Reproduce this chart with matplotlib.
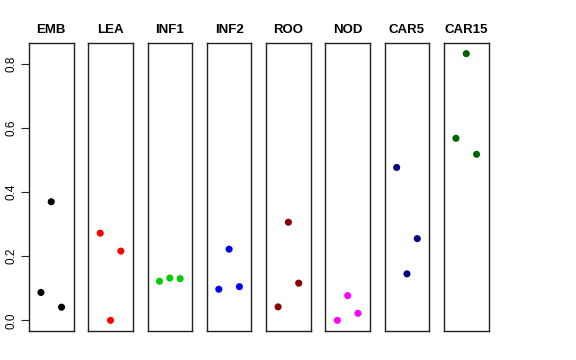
import numpy as np
import matplotlib
matplotlib.use("Agg")
import matplotlib.pyplot as plt

plt.rcParams["font.family"] = ["Liberation Sans", "DejaVu Sans"]

# ─── data ────────────────────────────────────────────────────────────────────
groups = ["EMB", "LEA", "INF1", "INF2", "ROO", "NOD", "CAR5", "CAR15"]
colors = ["black", "red", "#00CD00", "blue", "#8B0000", "magenta", "#000080", "#006400"]
positions = [1, 2, 3]

emb   = [0.087, 0.370, 0.041]
lea   = [0.272, 0.000, 0.216]
inf1  = [0.122, 0.132, 0.130]
inf2  = [0.097, 0.222, 0.105]
roo   = [0.042, 0.306, 0.116]
nod   = [0.000, 0.077, 0.022]
car5  = [0.477, 0.145, 0.255]
car15 = [0.568, 0.832, 0.518]
values = [emb, lea, inf1, inf2, roo, nod, car5, car15]

y_ticks = [0.0, 0.2, 0.4, 0.6, 0.8]

# shared y range with R-style 4% padding
ymin = min(min(v) for v in values)
ymax = max(max(v) for v in values)
pad = 0.04 * (ymax - ymin)

fig = plt.figure(figsize=(5.76, 3.6), dpi=100)
left, right = 29 / 576, 488.5 / 576
bottom, top = 1 - 331 / 360, 1 - 43 / 360
n = len(groups)
step = (right - left - 44.5 / 576) / (n - 1)
w = 44.5 / 576

for i, (g, c, v) in enumerate(zip(groups, colors, values)):
    ax = fig.add_axes([left + i * step, bottom, w, top - bottom])
    ax.scatter(positions, v, s=26, color=c, edgecolors="none", zorder=3)
    ax.set_xlim(-0.16, 4.16)
    ax.set_ylim(ymin - pad, ymax + pad)
    ax.set_xticks([])
    for sp in ax.spines.values():
        sp.set_linewidth(1.0)
        sp.set_color("#222222")
    ax.set_title(g, fontsize=9.5, fontweight="bold", pad=7)
    if i == 0:
        ax.set_yticks(y_ticks)
        ax.set_yticklabels([f"{t:.1f}" for t in y_ticks], rotation=90,
                           va="center", fontsize=8.5)
        ax.tick_params(axis="y", length=6, width=0.8, pad=2, colors="#222222",
                       labelcolor="black")
    else:
        ax.set_yticks([])

fig.savefig("out.png", dpi=100)
